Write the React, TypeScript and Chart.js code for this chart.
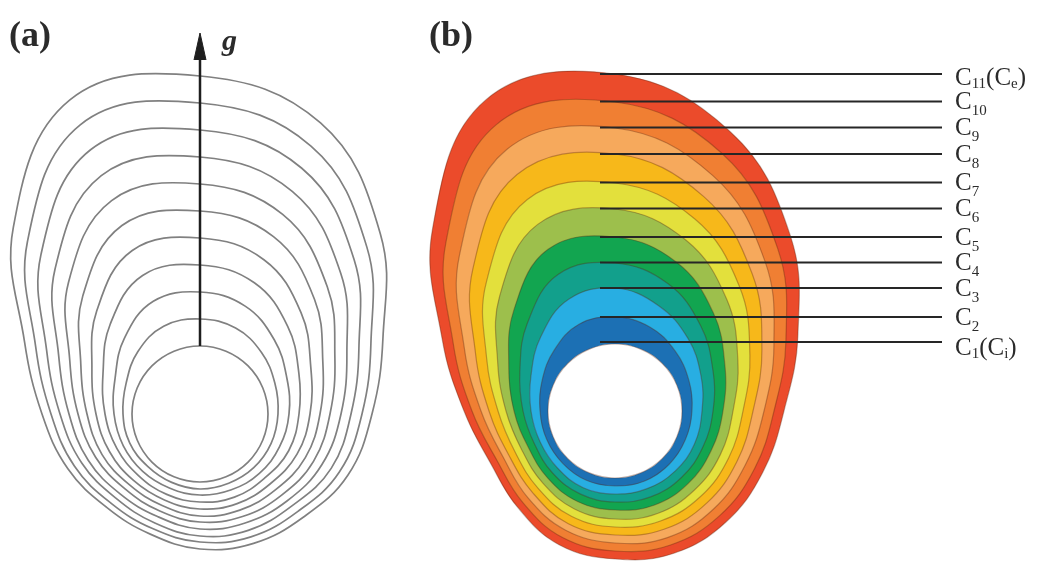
import React, { useEffect, useRef } from "react";
import { Chart, registerables } from "chart.js";

Chart.register(...registerables);

const FIG_W = 1049;
const FIG_H = 562;
const RADAR_HALF = 350; // radar canvas half-size: 1 radial unit = 1 px

// Directions (degrees clockwise from "up") at which each contour's radius is read
const ANGLES = ["0", "22.5", "45", "67.5", "90", "112.5", "135", "157.5", "180", "202.5", "225", "247.5", "270", "292.5", "315", "337.5"];

// Panel (a): contour radii (px) measured from the centre of the inner circle
const A_C1 = [68, 68, 68, 68, 68, 68, 68, 68, 68, 68, 68, 68, 68, 68, 68, 68];
const A_C2 = [95, 93, 87, 81, 78, 77, 76, 75, 75, 74, 74, 76, 77, 80, 88, 95];
const A_C3 = [122, 117, 105, 94, 89, 86, 84, 82, 81, 80, 81, 83, 86, 92, 107, 122];
const A_C4 = [149, 142, 124, 107, 99, 96, 91, 90, 88, 87, 87, 90, 95, 105, 127, 150];
const A_C5 = [176, 167, 143, 120, 110, 105, 99, 97, 95, 93, 94, 98, 104, 117, 146, 177];
const A_C6 = [203, 192, 162, 133, 120, 114, 107, 104, 102, 99, 100, 106, 113, 129, 166, 204];
const A_C7 = [230, 216, 180, 146, 130, 123, 115, 111, 108, 105, 106, 113, 122, 141, 186, 231];
const A_C8 = [257, 241, 199, 159, 141, 132, 123, 118, 115, 111, 113, 121, 131, 153, 205, 258];
const A_C9 = [284, 266, 218, 172, 151, 142, 130, 126, 122, 118, 119, 128, 140, 166, 225, 286];
const A_C10 = [311, 290, 236, 185, 162, 151, 138, 133, 128, 124, 126, 136, 149, 178, 244, 313];
const A_C11 = [338, 315, 255, 198, 172, 160, 146, 140, 135, 130, 132, 143, 158, 190, 264, 340];

// Panel (b): contour radii (px) measured from the centre of the inner circle
const B_C1 = [67, 67, 67, 67, 67, 67, 67, 67, 67, 67, 67, 67, 67, 67, 67, 67];
const B_C2 = [94, 91, 85, 80, 77, 76, 76, 76, 75, 75, 74, 74, 75, 79, 86, 94];
const B_C3 = [123, 114, 103, 93, 87, 86, 85, 84, 83, 83, 81, 81, 84, 91, 105, 121];
const B_C4 = [148, 138, 121, 106, 98, 95, 94, 93, 91, 90, 88, 87, 92, 103, 124, 148];
const B_C5 = [174, 161, 139, 119, 108, 104, 103, 102, 99, 98, 95, 94, 101, 115, 143, 175];
const B_C6 = [202, 185, 158, 133, 118, 114, 112, 111, 108, 106, 102, 101, 109, 127, 163, 202];
const B_C7 = [228, 208, 176, 146, 128, 123, 121, 119, 116, 114, 109, 108, 117, 139, 182, 229];
const B_C8 = [257, 232, 194, 159, 138, 132, 130, 128, 124, 122, 116, 115, 126, 151, 201, 256];
const B_C9 = [283, 255, 212, 172, 149, 141, 139, 137, 132, 129, 123, 121, 134, 163, 220, 283];
const B_C10 = [309, 279, 230, 185, 159, 151, 148, 145, 140, 137, 130, 128, 143, 175, 239, 310];
const B_C11 = [337, 302, 248, 198, 169, 160, 157, 154, 148, 145, 137, 135, 151, 187, 258, 337];

// Leader lines / labels of panel (b), from C11 (outer) to C1 (inner)
const LEVEL_Y = [74, 101.5, 127.5, 154, 182.5, 208.5, 237, 262.5, 288, 317, 342];
const LEVEL_NUM = ["11", "10", "9", "8", "7", "6", "5", "4", "3", "2", "1"];
const LEVEL_SUFFIX = ["e", "", "", "", "", "", "", "", "", "", "i"];
const LEADER_FROM_X = 600;
const LEADER_TO_X = 942;

// Gravity arrow of panel (a)
const ARROW_SHAFT = [{ x: 200, y: 346 }, { x: 200, y: 56 }];
const ARROW_HEAD = [{ x: 194, y: 60 }, { x: 200, y: 33 }, { x: 206, y: 60 }];

// Layout / style
const A_CENTER = { x: 200, y: 414 };
const B_CENTER = { x: 615, y: 411 };
const B_FILLS = ["#FFFFFF", "#1C70B4", "#28AEE2", "#12A08C", "#12A550", "#9DBF4C", "#E3E03C", "#F7B81A", "#F6A95C", "#F07F33", "#EB4B2B"];

const radarOptions: any = {
  responsive: false,
  animation: false,
  events: [],
  layout: { padding: 0 },
  plugins: { legend: { display: false }, tooltip: { enabled: false }, title: { display: false } },
  scales: { r: { display: false, min: 0, max: RADAR_HALF, startAngle: 0 } },
  elements: { point: { radius: 0 }, line: { tension: 0.4 } },
};

const textPlugin = {
  id: "figureText",
  afterDatasetsDraw(chart: any) {
    const { ctx } = chart;
    const xs = chart.scales.x;
    const ys = chart.scales.y;
    const px = (v: number) => xs.getPixelForValue(v);
    const py = (v: number) => ys.getPixelForValue(v);
    ctx.save();
    ctx.fillStyle = "#2b2b2b";
    ctx.textBaseline = "middle";
    ctx.textAlign = "left";
    ctx.font = 'bold 36px "Liberation Serif"';
    ctx.fillText("(a)", px(9), py(37));
    ctx.fillText("(b)", px(429), py(37));
    ctx.font = 'italic bold 30px "Liberation Serif"';
    ctx.fillText("g", px(222), py(42));

    const MAIN = '25px "Liberation Serif"';
    const SUB = '15px "Liberation Serif"';
    LEVEL_Y.forEach((ly, i) => {
      const edge = i === 0 || i === LEVEL_Y.length - 1;
      const yc = py(ly + (i === 0 ? 4.5 : edge ? 6.5 : 1));
      const subDy = edge ? 6 : 9;
      let x = px(955);
      ctx.font = MAIN;
      ctx.fillText("C", x, yc);
      x += ctx.measureText("C").width;
      ctx.font = SUB;
      ctx.fillText(LEVEL_NUM[i], x, yc + subDy);
      x += ctx.measureText(LEVEL_NUM[i]).width;
      if (LEVEL_SUFFIX[i]) {
        ctx.font = MAIN;
        ctx.fillText("(C", x, yc);
        x += ctx.measureText("(C").width;
        ctx.font = SUB;
        ctx.fillText(LEVEL_SUFFIX[i], x, yc + 6);
        x += ctx.measureText(LEVEL_SUFFIX[i]).width;
        ctx.font = MAIN;
        ctx.fillText(")", x, yc);
      }
    });
    ctx.restore();
  },
};

export default function App() {
  const aRef = useRef<HTMLCanvasElement>(null);
  const bRef = useRef<HTMLCanvasElement>(null);
  const oRef = useRef<HTMLCanvasElement>(null);

  useEffect(() => {
    const aRings = [A_C1, A_C2, A_C3, A_C4, A_C5, A_C6, A_C7, A_C8, A_C9, A_C10, A_C11];
    const bRings = [B_C1, B_C2, B_C3, B_C4, B_C5, B_C6, B_C7, B_C8, B_C9, B_C10, B_C11];

    const chartA = new Chart(aRef.current as HTMLCanvasElement, {
      type: "radar",
      data: {
        labels: ANGLES,
        datasets: aRings.map((r) => ({
          data: r,
          fill: false,
          borderColor: "#808080",
          borderWidth: 1.7,
          tension: 0.4,
          pointRadius: 0,
        })),
      },
      options: radarOptions,
    } as any);

    const chartB = new Chart(bRef.current as HTMLCanvasElement, {
      type: "radar",
      data: {
        labels: ANGLES,
        datasets: bRings.map((r, i) => ({
          data: r,
          fill: "shape",
          backgroundColor: B_FILLS[i],
          borderColor: "rgba(90,35,15,0.35)",
          borderWidth: 1.2,
          tension: 0.4,
          pointRadius: 0,
        })),
      },
      options: radarOptions,
    } as any);

    const leaderSets = LEVEL_Y.map((y) => ({
      data: [{ x: LEADER_FROM_X, y }, { x: LEADER_TO_X, y }],
      showLine: true,
      borderColor: "#262626",
      borderWidth: 2,
      pointRadius: 0,
      fill: false,
    }));

    const overlay = new Chart(oRef.current as HTMLCanvasElement, {
      type: "scatter",
      data: {
        datasets: [
          ...leaderSets,
          { data: ARROW_SHAFT, showLine: true, borderColor: "#1e1e1e", borderWidth: 2.5, pointRadius: 0, fill: false },
          { data: ARROW_HEAD, showLine: true, borderColor: "#1e1e1e", borderWidth: 1, backgroundColor: "#1e1e1e", pointRadius: 0, fill: "shape" },
        ],
      },
      options: {
        responsive: false,
        animation: false,
        events: [],
        layout: { padding: 0 },
        plugins: { legend: { display: false }, tooltip: { enabled: false } },
        scales: {
          x: { type: "linear", display: false, min: 0, max: FIG_W },
          y: { type: "linear", display: false, min: 0, max: FIG_H, reverse: true },
        },
      },
      plugins: [textPlugin],
    } as any);

    return () => {
      chartA.destroy();
      chartB.destroy();
      overlay.destroy();
    };
  }, []);

  const side = RADAR_HALF * 2;
  return (
    <div style={{ position: "fixed", left: 0, top: 0, width: FIG_W, height: FIG_H, overflow: "hidden", background: "#ffffff" }}>
      <canvas ref={aRef} width={side} height={side} style={{ position: "absolute", left: A_CENTER.x - RADAR_HALF, top: A_CENTER.y - RADAR_HALF, width: side, height: side }} />
      <canvas ref={bRef} width={side} height={side} style={{ position: "absolute", left: B_CENTER.x - RADAR_HALF, top: B_CENTER.y - RADAR_HALF, width: side, height: side }} />
      <canvas ref={oRef} width={FIG_W} height={FIG_H} style={{ position: "absolute", left: 0, top: 0, width: FIG_W, height: FIG_H }} />
    </div>
  );
}
